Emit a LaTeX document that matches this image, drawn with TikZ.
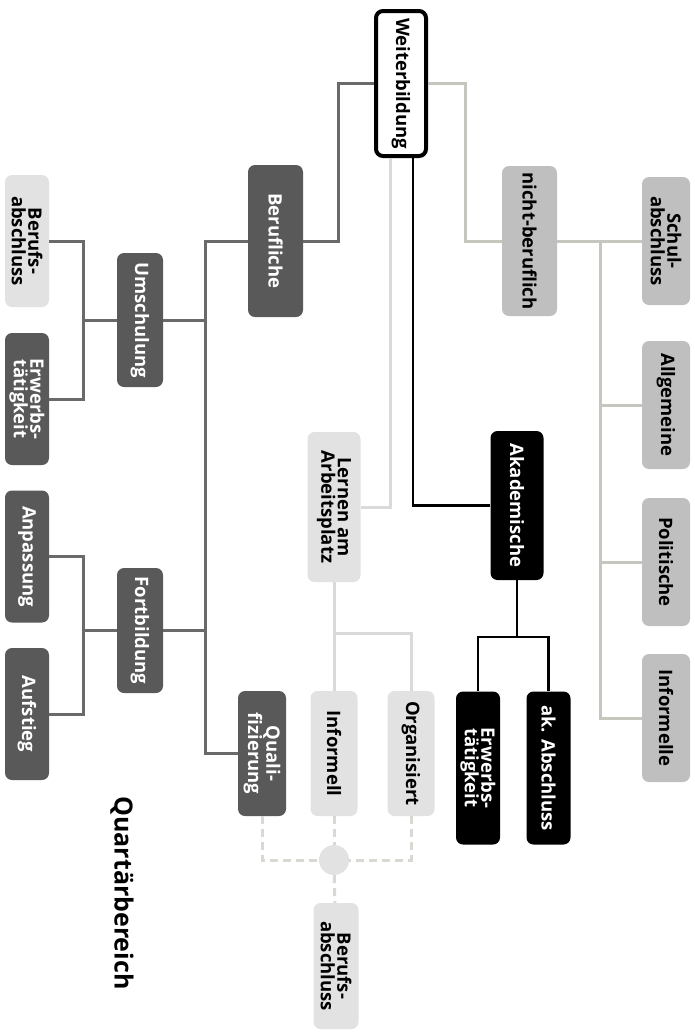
\documentclass[tikz,border=0pt]{standalone}
\usepackage{fontspec}
\setmainfont{Open Sans}
\usetikzlibrary{calc}
\definecolor{dunkel}{HTML}{595959}
\definecolor{mittel}{HTML}{BFBFBF}
\definecolor{hell}{HTML}{E2E2E2}
\definecolor{liniedunkel}{HTML}{6A6A6A}
\definecolor{liniemittel}{HTML}{C6C6BE}
\definecolor{liniehell}{HTML}{DADADA}
\definecolor{strich}{HTML}{D9D9D4}
\tikzset{
  kasten/.style={rounded corners=7pt, rotate=-90, inner sep=0pt, align=center,
    font=\bfseries\fontsize{18.5}{16.5}\selectfont, minimum height=46pt, minimum width=132pt},
  dunkelbox/.style={kasten, fill=dunkel, text=white},
  mittelbox/.style={kasten, fill=mittel, minimum height=48pt},
  hellbox/.style={kasten, fill=hell},
  schwarzbox/.style={kasten, fill=black, text=white},
  ldunkel/.style={draw=liniedunkel, line width=3pt},
  lmittel/.style={draw=liniemittel, line width=3pt},
  lhell/.style={draw=liniehell, line width=3pt},
  lschwarz/.style={draw=black, line width=2.6pt},
  gestrichelt/.style={draw=strich, line width=3pt, dash pattern=on 8pt off 5pt}
}
\begin{document}
\begin{tikzpicture}[x=1pt,y=-1pt]
\useasboundingbox (0,0) rectangle (694,1034);

% Wurzel
\node[kasten, fill=white, draw=black, line width=4pt, minimum width=145pt, minimum height=50pt] (wb) at (401,83.5) {Weiterbildung};

% Hauptzweige
\node[dunkelbox, minimum width=152pt, minimum height=55pt] (beruf) at (275.5,241) {Berufliche};
\node[mittelbox, minimum width=150pt, minimum height=55pt] (nbf) at (529.5,241) {nicht-beruflich};
\node[schwarzbox, minimum width=149pt, minimum height=53pt] (akad) at (517,505.5) {Akademische};
\node[hellbox, minimum width=150pt, minimum height=53pt] (lernen) at (334,507) {Lernen am\\Arbeitsplatz};

% nicht-beruflich
\foreach \n/\y/\t in {schul/241/{Schul-\\abschluss}, allg/405/Allgemeine, poli/562/Politische, infl/718/Informelle}
  \node[mittelbox, minimum width=128pt] (\n) at (666,\y) {\t};

% berufliche
\node[dunkelbox, minimum width=134pt] (umsch) at (140,320) {Umschulung};
\node[dunkelbox, minimum width=125pt] (fortb) at (140,630.5) {Fortbildung};
\node[dunkelbox, minimum width=125pt, minimum height=48pt] (quali) at (262,753.5) {Quali-\\fizierung};
\node[hellbox, minimum height=44pt] (babl) at (27,241) {Berufs-\\abschluss};
\node[dunkelbox, minimum height=44pt] (erwl) at (27,399) {Erwerbs-\\tätigkeit};
\node[dunkelbox, minimum height=44pt] (anp) at (27,556.5) {Anpassung};
\node[dunkelbox, minimum height=44pt] (aufst) at (27,714) {Aufstieg};

% akademische
\node[schwarzbox, minimum width=153pt, minimum height=44pt] (erwa) at (478,768) {Erwerbs-\\tätigkeit};
\node[schwarzbox, minimum width=153pt, minimum height=44pt] (akab) at (548.5,768) {ak. Abschluss};

% Lernen am Arbeitsplatz
\node[hellbox, minimum width=125pt, minimum height=47pt] (infm) at (334,753.5) {Informell};
\node[hellbox, minimum width=125pt, minimum height=47pt] (org) at (411,753.5) {Organisiert};
\node[circle, fill=hell, minimum size=30pt, inner sep=0pt] (kreis) at (334,860) {};
\node[hellbox, minimum width=126pt, minimum height=45pt] (bab) at (336,966) {Berufs-\\abschluss};

\node[rotate=-90, font=\bfseries\fontsize{25}{25}\selectfont] (titel) at (122,893) {Quartärbereich};

% Knickpunkte
\coordinate (kb) at (338,241);
\coordinate (knb) at (465,241);
\coordinate (ka) at (413,505.5);
\coordinate (kl) at (390,507);
\coordinate (kak) at (517,637);
\coordinate (kl2) at (334,633);
\coordinate (kbt) at (205,241);
\coordinate (ku) at (83,320);
\coordinate (kf) at (83,630.5);
\coordinate (knt) at (600,241);

% Verbindungen
\draw[ldunkel] (wb) -| (kb) -- (beruf);
\draw[lmittel] (wb) -| (knb) -- (nbf);
\draw[lschwarz] (wb.east -| ka) -- (ka) -- (akad);
\draw[lhell] (wb.east -| kl) -- (kl) -- (lernen);

\draw[lmittel] (nbf) -- (schul);
\draw[lmittel] (knt) |- (infl);
\foreach \n in {allg,poli}
  \draw[lmittel] (\n) -- (\n -| knt);

\draw[ldunkel] (beruf) -- (kbt) |- (quali);
\draw[ldunkel] (umsch) -- (umsch -| kbt);
\draw[ldunkel] (fortb) -- (fortb -| kbt);
\draw[ldunkel] (umsch) -- (ku);
\draw[ldunkel] (babl) -| (ku) |- (erwl);
\draw[ldunkel] (fortb) -- (kf);
\draw[ldunkel] (anp) -| (kf) |- (aufst);

\draw[lschwarz] (akad) -- (kak) -| (erwa);
\draw[lschwarz] (kak) -| (akab);

\draw[lhell] (lernen) -- (kl2) -| (org);
\draw[lhell] (kl2) -- (infm);

\draw[gestrichelt] (quali) |- (kreis);
\draw[gestrichelt] (org) |- (kreis);
\draw[gestrichelt] (infm) -- (kreis);
\draw[gestrichelt] (kreis) -- (bab);
\end{tikzpicture}
\end{document}
